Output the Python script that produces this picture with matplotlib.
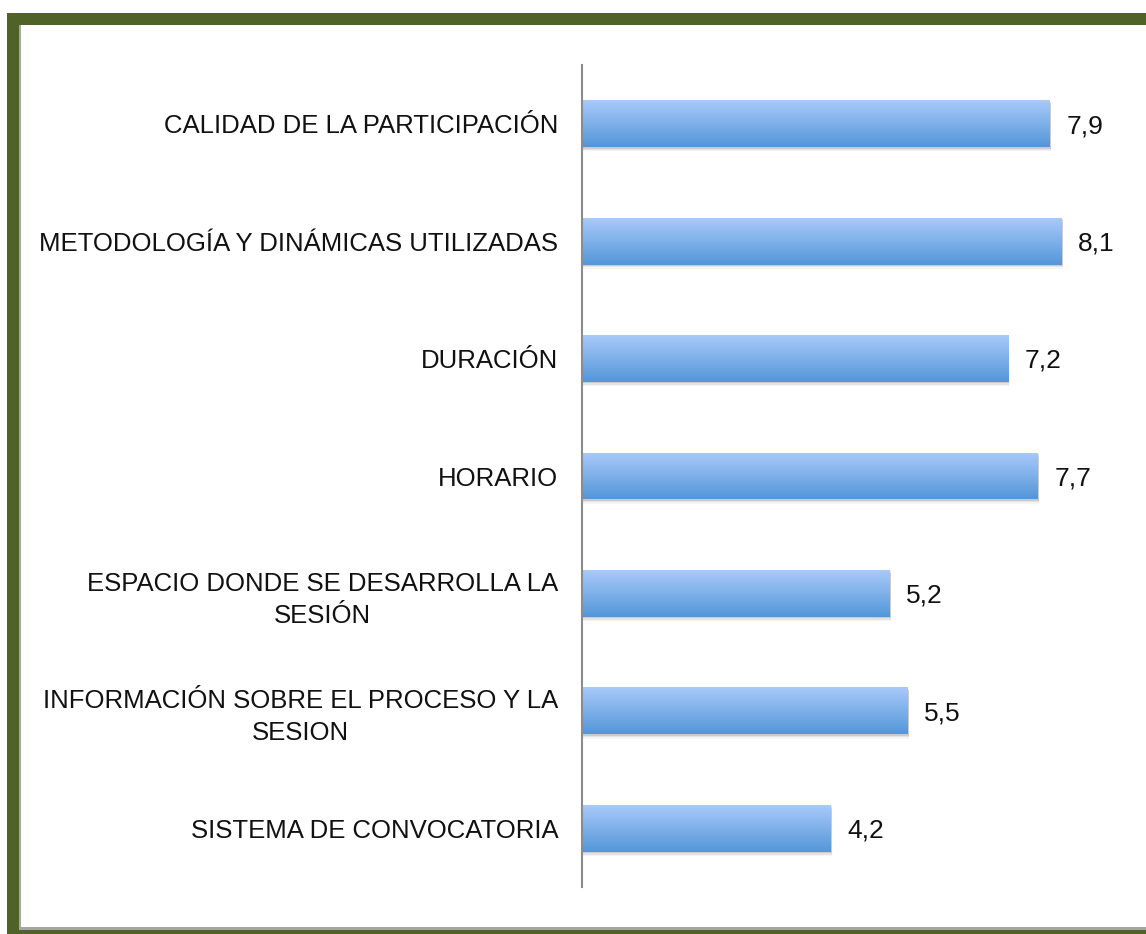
import numpy as np
import matplotlib.pyplot as plt
from matplotlib.patches import Rectangle

categorias = [
    'CALIDAD DE LA PARTICIPACIÓN',
    'METODOLOGÍA Y DINÁMICAS UTILIZADAS',
    'DURACIÓN',
    'HORARIO',
    'ESPACIO DONDE SE DESARROLLA LA\nSESIÓN',
    'INFORMACIÓN SOBRE EL PROCESO Y LA\nSESION',
    'SISTEMA DE CONVOCATORIA',
]
valores = [7.9, 8.1, 7.2, 7.7, 5.2, 5.5, 4.2]
etiquetas = ['7,9', '8,1', '7,2', '7,7', '5,2', '5,5', '4,2']

plt.rcParams['font.family'] = ['Liberation Sans', 'DejaVu Sans']

W, H = 1146, 934
fig = plt.figure(figsize=(W / 100, H / 100), dpi=100)
fig.patch.set_facecolor('white')


def franja(x, y, w, h, color):
    fig.patches.append(Rectangle((x / W, y / H), w / W, h / H, transform=fig.transFigure,
                                 facecolor=color, edgecolor='none', zorder=0))


# marco verde con filete gris por dentro
verde = '#4f6228'
franja(7, 0, 12, H - 13, verde)
franja(7, H - 25, W, 12, verde)
franja(7, 0, W, 4, verde)
franja(19, 4, 2, H - 29, '#a6a6a6')
franja(19, 4, W, 3, '#a6a6a6')

ax = fig.add_axes([582 / W, 47 / H, (W - 582) / W, 822 / H])
ax.set_facecolor('none')

n = len(categorias)
y = np.arange(n)
alto = 0.4

# degradado vertical de las barras
grad = np.linspace(0, 1, 64)
claro = np.array([0.66, 0.79, 0.98])
oscuro = np.array([0.33, 0.59, 0.85])
img = (claro + (oscuro - claro) * grad[:, None]).reshape(64, 1, 3)

for yi, v in zip(y, valores):
    # sombra suave
    for k, a in enumerate([0.10, 0.07, 0.04]):
        ax.add_patch(Rectangle((0, yi - alto / 2 + 0.012 * (k + 1)), v + 0.02, alto,
                               facecolor='black', alpha=a, edgecolor='none', zorder=1))
    barra = ax.barh(yi, v, height=alto, color='none', edgecolor='none', zorder=2)[0]
    im = ax.imshow(img, extent=(0, v, yi + alto / 2, yi - alto / 2), aspect='auto',
                   zorder=2, interpolation='bilinear')
    im.set_clip_path(barra)

for yi, v, t in zip(y, valores, etiquetas):
    ax.text(v + 0.28, yi + 0.02, t, va='center', ha='left', fontsize=19, color='#111111')

ax.set_xlim(0, (W - 582) / 59.2)
ax.set_ylim(n - 0.5, -0.5)
ax.set_yticks(y)
ax.set_yticklabels(categorias, fontsize=18.5, color='#111111', multialignment='center',
                   linespacing=1.4)
ax.tick_params(axis='y', length=0, pad=17)
ax.set_xticks([])
for s in ['top', 'right', 'bottom']:
    ax.spines[s].set_visible(False)
ax.spines['left'].set_color('#8c8c8c')
ax.spines['left'].set_linewidth(1.5)

fig.savefig('out.png', dpi=100)
